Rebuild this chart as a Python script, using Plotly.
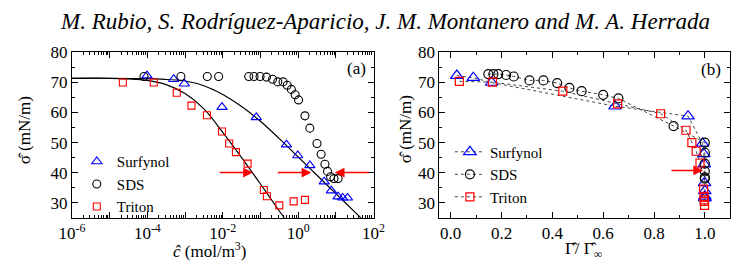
import plotly.graph_objects as go

# ---------------- data: panel (a) ----------------
surf_logc = [-4.01, -3.30, -3.02, -2.02, -1.11, -0.31, -0.01, 0.31, 0.69, 0.88, 1.06, 1.18, 1.31]
surf_sig = [72.3, 71.1, 69.6, 61.8, 58.4, 49.3, 45.7, 42.4, 37.0, 34.0, 32.0, 31.6, 31.6]

sds_logc = [-4.09, -3.11, -2.41, -2.11, -1.31, -1.17, -1.01, -0.84, -0.68, -0.54, -0.40, -0.29,
            -0.18, -0.08, 0.01, 0.18, 0.31, 0.50, 0.61, 0.71, 0.78, 0.86, 0.95, 1.06]
sds_sig = [72.0, 72.0, 72.0, 72.0, 72.0, 72.0, 72.0, 71.8, 71.1, 70.2, 70.2, 69.1,
           67.7, 65.9, 64.2, 58.9, 54.8, 49.7, 46.1, 42.8, 40.4, 38.6, 38.0, 38.0]

trit_logc = [-4.65, -3.83, -3.22, -2.83, -2.42, -2.02, -1.83, -1.65, -1.34, -0.91, -0.83, -0.50, -0.12, 0.18]
trit_sig = [70.0, 70.0, 66.6, 62.3, 59.1, 53.7, 49.7, 46.8, 43.0, 34.2, 32.1, 29.1, 30.4, 30.9]

# fitted curves
fit1_logc = [-6.0, -5.0, -4.5, -4.0, -3.5, -3.0, -2.5, -2.0, -1.5, -1.0, -0.5, -0.35]
fit1_sig = [71.4, 71.4, 71.2, 70.7, 69.3, 66.3, 61.2, 53.4, 45.0, 36.2, 27.2, 24.6]
fit2_logc = [-6.0, -4.0, -3.5, -3.0, -2.5, -2.0, -1.5, -1.0, -0.5, 0.0, 0.5, 1.0, 1.5, 1.7]
fit2_sig = [71.4, 71.3, 71.0, 70.5, 68.9, 66.0, 62.0, 57.1, 51.3, 45.2, 39.1, 33.0, 26.9, 24.5]

# arrows (log c tail, log c head, sigma)
arrows_a = [(-2.12, -1.20, 40.0), (-0.58, 0.35, 40.0), (1.92, 0.97, 40.0)]

# ---------------- data: panel (b) ----------------
surf_gam = [0.024, 0.089, 0.161, 0.647, 0.934, 0.991, 0.996, 0.998, 0.999, 1.0, 1.0, 1.0, 1.0]
surf_sig_b = [72.3, 71.6, 70.0, 62.1, 58.8, 49.7, 46.2, 42.8, 36.6, 33.9, 32.1, 31.6, 31.6]

sds_gam = [0.148, 0.168, 0.187, 0.218, 0.248, 0.31, 0.365, 0.419, 0.467, 0.515, 0.60, 0.66,
           0.877, 1.0, 1.0, 1.0, 1.0, 1.0, 1.0]
sds_sig_b = [72.8, 72.8, 72.8, 72.5, 72.0, 70.7, 70.7, 69.8, 68.2, 67.1, 65.9, 64.7,
             55.5, 50.0, 46.6, 43.0, 40.4, 38.4, 38.0]

trit_gam = [0.034, 0.164, 0.441, 0.657, 0.826, 0.926, 0.949, 0.966, 0.981, 0.995, 0.997, 0.999, 0.998, 0.998]
trit_sig_b = [70.4, 70.1, 67.1, 62.9, 59.6, 54.1, 50.0, 47.1, 43.2, 34.5, 32.1, 29.1, 30.4, 30.9]

arrow_b = (0.863, 0.993, 40.7)

x_tick_decades = [-6, -5, -4, -3, -2, -1, 0, 1, 2]
y_ticks = [30, 40, 50, 60, 70, 80]
gam_ticks = [0.0, 0.2, 0.4, 0.6, 0.8, 1.0]

title_text = "M. Rubio, S. Rodríguez-Aparicio, J. M. Montanero and M. A. Herrada"

# ---------------- figure ----------------
FONT = "Liberation Serif"
BLUE, RED, BLACK = "#0000FF", "#FF0000", "#000000"

fig = go.Figure()

conc = lambda L: [10 ** v for v in L]

fig.add_trace(go.Scatter(x=conc(fit1_logc), y=fit1_sig, mode="lines", line=dict(color="black", width=1.2, shape="spline"),
                         showlegend=False, xaxis="x", yaxis="y"))
fig.add_trace(go.Scatter(x=conc(fit2_logc), y=fit2_sig, mode="lines", line=dict(color="black", width=1.2, shape="spline"),
                         showlegend=False, xaxis="x", yaxis="y"))
fig.add_trace(go.Scatter(x=conc(surf_logc), y=surf_sig, mode="markers", name="Surfynol",
                         marker=dict(symbol="triangle-up-open", size=9, color=BLUE, line=dict(width=1.1)),
                         xaxis="x", yaxis="y", legend="legend"))
fig.add_trace(go.Scatter(x=conc(sds_logc), y=sds_sig, mode="markers", name="SDS",
                         marker=dict(symbol="circle-open", size=8, color=BLACK, line=dict(width=1.1)),
                         xaxis="x", yaxis="y", legend="legend"))
fig.add_trace(go.Scatter(x=conc(trit_logc), y=trit_sig, mode="markers", name="Triton",
                         marker=dict(symbol="square-open", size=7, color=RED, line=dict(width=1.1)),
                         xaxis="x", yaxis="y", legend="legend"))

dot = dict(color="#444444", width=1, dash="dot")
fig.add_trace(go.Scatter(x=surf_gam, y=surf_sig_b, mode="lines+markers", name="Surfynol", line=dot,
                         marker=dict(symbol="triangle-up-open", size=11, color=BLUE, line=dict(width=1.2)),
                         xaxis="x2", yaxis="y2", legend="legend2"))
fig.add_trace(go.Scatter(x=sds_gam, y=sds_sig_b, mode="lines+markers", name="SDS", line=dot,
                         marker=dict(symbol="circle-open", size=9, color=BLACK, line=dict(width=1.2)),
                         xaxis="x2", yaxis="y2", legend="legend2"))
fig.add_trace(go.Scatter(x=trit_gam, y=trit_sig_b, mode="lines+markers", name="Triton", line=dot,
                         marker=dict(symbol="square-open", size=8, color=RED, line=dict(width=1.2)),
                         xaxis="x2", yaxis="y2", legend="legend2"))

W, H = 749, 264
px_x = lambda p: p / W
px_y = lambda p: 1 - p / H

axis_common = dict(showline=True, linecolor="black", linewidth=1, mirror="ticks", ticks="inside",
                   ticklen=6, tickwidth=1, tickcolor="black", showgrid=False, zeroline=False,
                   tickfont=dict(family=FONT, size=17, color="black"))

def sup(d):
    return "10<sup>%d</sup>" % d

minor_log = [k * 10 ** d for d in range(-6, 2) for k in range(2, 10)]

fig.update_layout(
    width=W, height=H, margin=dict(l=0, r=0, t=0, b=0),
    paper_bgcolor="white", plot_bgcolor="white",
    font=dict(family=FONT, size=16, color="black"),
    xaxis=dict(axis_common, type="log", range=[-6, 2], domain=[px_x(61), px_x(373)],
               tickmode="array", tickvals=[10 ** d for d in x_tick_decades],
               ticktext=[sup(d) if d % 2 == 0 else "" for d in x_tick_decades],
               minor=dict(tickmode="array", tickvals=minor_log, ticks="inside", ticklen=3, tickcolor="black"),
               anchor="y"),
    yaxis=dict(axis_common, range=[25, 80], domain=[px_y(216), px_y(45)],
               tickmode="array", tickvals=y_ticks,
               minor=dict(dtick=5, tick0=0, ticks="inside", ticklen=3, tickcolor="black"), anchor="x"),
    xaxis2=dict(axis_common, range=[-0.045, 1.1], domain=[px_x(441), px_x(742)],
                tickmode="array", tickvals=gam_ticks, ticktext=["%.1f" % v for v in gam_ticks],
                minor=dict(dtick=0.1, tick0=0, ticks="inside", ticklen=3, tickcolor="black"), anchor="y2"),
    yaxis2=dict(axis_common, range=[25, 80], domain=[px_y(216), px_y(45)],
                tickmode="array", tickvals=y_ticks,
                minor=dict(dtick=5, tick0=0, ticks="inside", ticklen=3, tickcolor="black"), anchor="x2"),
    legend=dict(x=px_x(66), y=px_y(141), xanchor="left", yanchor="top", bgcolor="rgba(0,0,0,0)",
                font=dict(family=FONT, size=15), tracegroupgap=0, itemwidth=30),
    legend2=dict(x=px_x(452), y=px_y(131), xanchor="left", yanchor="top", bgcolor="rgba(0,0,0,0)",
                 font=dict(family=FONT, size=15), tracegroupgap=0, itemwidth=30),
)

def label(text, x, y, size=17, angle=0):
    return dict(text=text, x=px_x(x), y=px_y(y), xref="paper", yref="paper", xanchor="center",
                yanchor="middle", textangle=angle, showarrow=False, font=dict(family=FONT, size=size))

ann = [
    label("<i>" + title_text + "</i>", 385, 13, 23),
    label("<i>ĉ</i> (mol/m<sup>3</sup>)", 203, 249),
    label("Γ̂/ Γ̂<sub>∞</sub>", 590, 250),
    label("σ̂ (mN/m)", 12, 126, angle=-90),
    label("σ̂ (mN/m)", 406, 124, angle=-90),
    label("(a)", 355, 62),
    label("(b)", 722, 63),
]
for tail, head, s in arrows_a:
    ann.append(dict(x=head, y=s, ax=tail, ay=s, xref="x", yref="y", axref="x", ayref="y", text="",
                    showarrow=True, arrowhead=2, arrowsize=1.3, arrowwidth=1.5, arrowcolor=RED))
ann.append(dict(x=arrow_b[1], y=arrow_b[2], ax=arrow_b[0], ay=arrow_b[2], xref="x2", yref="y2",
                axref="x2", ayref="y2", text="", showarrow=True, arrowhead=2, arrowsize=1.3,
                arrowwidth=1.5, arrowcolor=RED))
fig.update_layout(annotations=ann)

fig.write_html("out.html")
